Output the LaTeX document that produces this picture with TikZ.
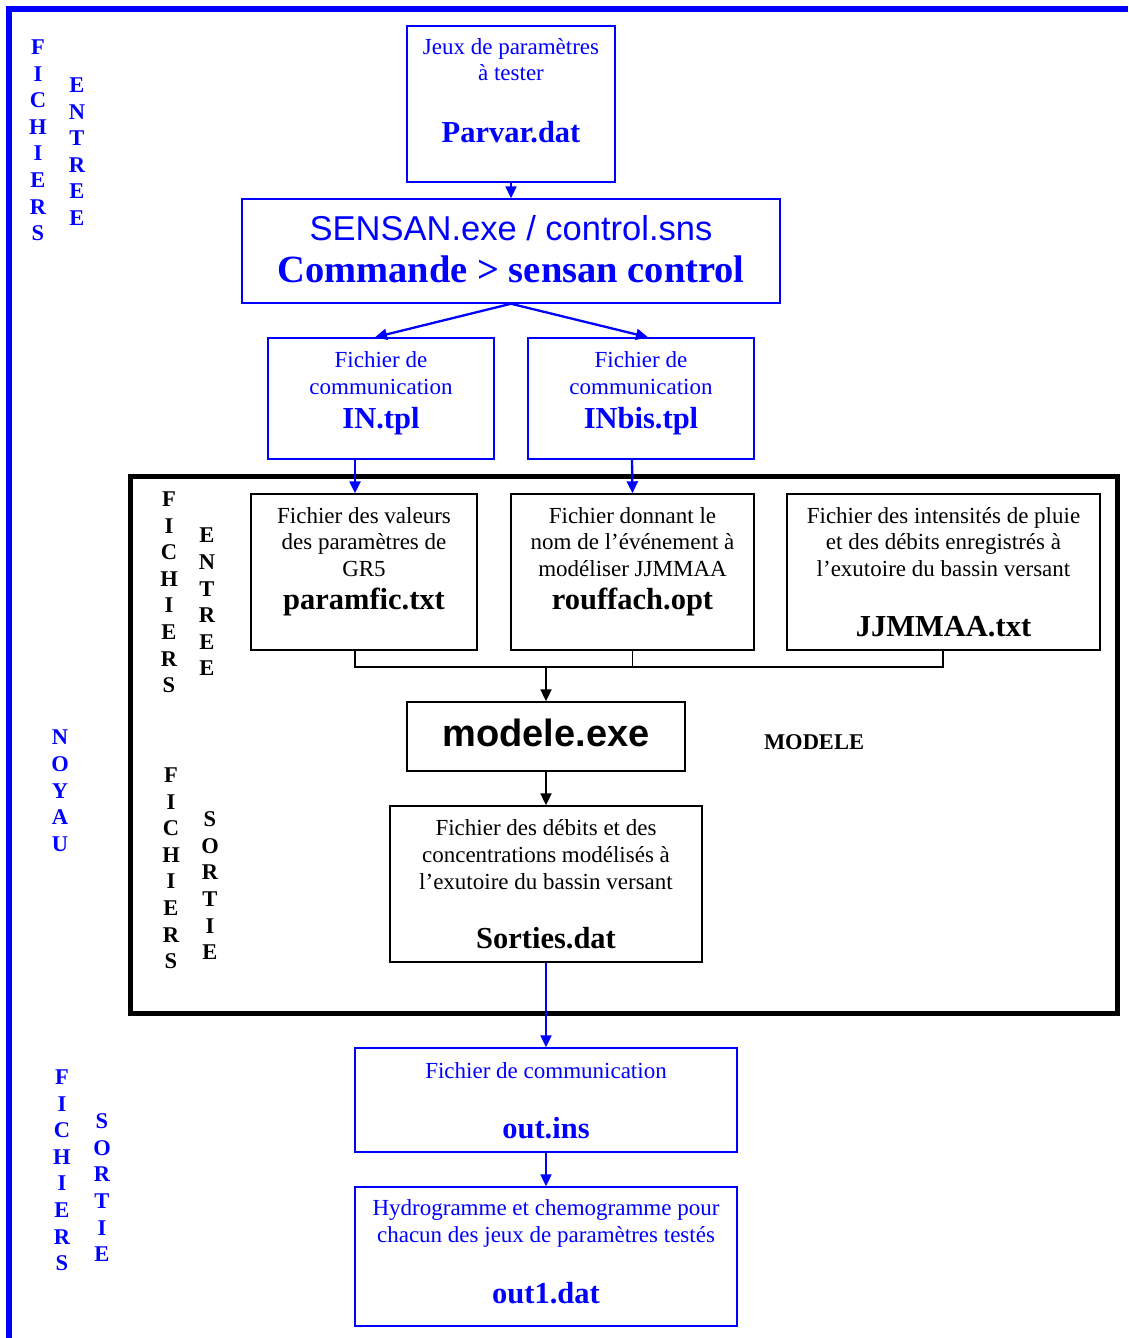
\documentclass[tikz,border=0pt]{standalone}
\usepackage{fontspec}
\setmainfont{Liberation Serif}
\setsansfont{Liberation Sans}
\usetikzlibrary{arrows.meta,calc}
\definecolor{pblue}{RGB}{0,0,255}
\newcommand\fsm{\fontsize{23}{26.5}\selectfont}
\newcommand\fbg{\fontsize{30.5}{34}\selectfont\bfseries}
\newcommand\fvt{\fontsize{22.5}{26.6}\selectfont\bfseries}
\begin{document}
\begin{tikzpicture}[x=1pt,y=-1pt,
  bluebox/.style={draw=pblue, line width=1.5pt, inner sep=0, rectangle},
  blackbox/.style={draw=black, line width=1.4pt, inner sep=0, rectangle},
  txt/.style={inner sep=0, anchor=base, font=\fsm},
  fname/.style={inner sep=0, anchor=base, font=\fbg},
  vlab/.style={align=center, inner sep=0, anchor=north, font=\fvt},
  barrow/.style={draw=pblue, line width=2.3pt, -{Triangle[length=12pt,width=11pt]}},
  karrow/.style={draw=black, line width=2pt, -{Triangle[length=12pt,width=11pt]}},
  kline/.style={draw=black, line width=1.4pt}]
\useasboundingbox (0,0) rectangle (1128,1338);
\fill[white] (0,0) rectangle (1128,1338);
% outer blue border (top and left)
\draw[pblue, line width=5.5pt] (9,1338) -- (9,9) -- (1128,9);
% black frame
\draw[black, line width=5pt] (130.5,476.5) rectangle (1117.5,1013.5);

% boxes
\node[bluebox, minimum width=208pt, minimum height=156pt] (parvar) at (511,104) {};
\node[bluebox, minimum width=538pt, minimum height=104pt] (sensan) at (511,251) {};
\node[bluebox, minimum width=226pt, minimum height=121pt] (intpl) at (381,398.5) {};
\node[bluebox, minimum width=226pt, minimum height=121pt] (inbis) at (641,398.5) {};
\node[blackbox, minimum width=226pt, minimum height=156pt] (pf) at (364,572) {};
\node[blackbox, minimum width=243pt, minimum height=156pt] (rf) at (632.5,572) {};
\node[blackbox, minimum width=313pt, minimum height=156pt] (jj) at (943.5,572) {};
\node[blackbox, minimum width=278pt, minimum height=69pt] (modele) at (546,736.5) {};
\node[blackbox, minimum width=312pt, minimum height=156pt] (sorties) at (546,884) {};
\node[bluebox, minimum width=382pt, minimum height=104pt] (outins) at (546,1100) {};
\node[bluebox, minimum width=382pt, minimum height=139pt] (outone) at (546,1256.5) {};

% texts
\node[txt, text=pblue] (t1a) at (511,55) {Jeux de paramètres};
\node[txt, text=pblue] (t1b) at (511,81) {à tester};
\node[fname, text=pblue] (t1c) at (511,142) {Parvar.dat};

\node[txt, text=pblue, font=\fontsize{34.5}{38}\selectfont\sffamily] (t2a) at (511,240) {SENSAN.exe / control.sns};
\node[txt, text=pblue, font=\fontsize{38.5}{42}\selectfont\bfseries] (t2b) at (511,282) {Commande > sensan control};

\node[txt, text=pblue] (t3a) at (381,367) {Fichier de};
\node[txt, text=pblue] (t3b) at (381,394) {communication};
\node[fname, text=pblue] (t3c) at (381,428) {IN.tpl};

\node[txt, text=pblue] (t4a) at (641,367) {Fichier de};
\node[txt, text=pblue] (t4b) at (641,394) {communication};
\node[fname, text=pblue] (t4c) at (641,428) {INbis.tpl};

\node[txt] (t5a) at (364,523) {Fichier des valeurs};
\node[txt] (t5b) at (364,549) {des paramètres de};
\node[txt] (t5c) at (364,576.5) {GR5};
\node[fname] (t5d) at (364,609) {paramfic.txt};

\node[txt] (t6a) at (632.5,523) {Fichier donnant le};
\node[txt] (t6b) at (632.5,549) {nom de l’événement à};
\node[txt] (t6c) at (632.5,576.5) {modéliser JJMMAA};
\node[fname] (t6d) at (632.5,609) {rouffach.opt};

\node[txt] (t7a) at (943.5,523) {Fichier des intensités de pluie};
\node[txt] (t7b) at (943.5,549) {et des débits enregistrés à};
\node[txt] (t7c) at (943.5,576.5) {l’exutoire du bassin versant};
\node[fname] (t7d) at (943.5,636.5) {JJMMAA.txt};

\node[txt, font=\fontsize{38}{41}\selectfont\sffamily\bfseries] (t8) at (546,746.5) {modele.exe};
\node[txt, font=\fontsize{22.5}{26}\selectfont\bfseries] (t8b) at (814,749) {MODELE};

\node[txt] (t9a) at (546,835) {Fichier des débits et des};
\node[txt] (t9b) at (546,862) {concentrations modélisés à};
\node[txt] (t9c) at (546,889) {l’exutoire du bassin versant};
\node[fname] (t9d) at (546,948) {Sorties.dat};

\node[txt, text=pblue] (t10a) at (546,1078) {Fichier de communication};
\node[fname, text=pblue] (t10b) at (546,1138) {out.ins};

\node[txt, text=pblue] (t11a) at (546,1215.5) {Hydrogramme et chemogramme pour};
\node[txt, text=pblue] (t11b) at (546,1242) {chacun des jeux de paramètres testés};
\node[fname, text=pblue] (t11c) at (546,1303) {out1.dat};

% vertical labels
\node[vlab, text=pblue] (v1) at (38,39.5) {F\\I\\C\\H\\I\\E\\R\\S};
\node[vlab, text=pblue] (v2) at (77,77.5) {E\\N\\T\\R\\E\\E};
\node[vlab] (v3) at (169,491.5) {F\\I\\C\\H\\I\\E\\R\\S};
\node[vlab] (v4) at (207,528) {E\\N\\T\\R\\E\\E};
\node[vlab, text=pblue] (v5) at (60,730) {N\\O\\Y\\A\\U};
\node[vlab] (v6) at (171,767.5) {F\\I\\C\\H\\I\\E\\R\\S};
\node[vlab] (v7) at (210,811.5) {S\\O\\R\\T\\I\\E};
\node[vlab, text=pblue] (v8) at (62,1069.5) {F\\I\\C\\H\\I\\E\\R\\S};
\node[vlab, text=pblue] (v9) at (102,1113.5) {S\\O\\R\\T\\I\\E};

% connectors
\draw[barrow] (parvar.south) -- (sensan.north);
\draw[barrow] (sensan.south) -- ([xshift=-6pt]intpl.north);
\draw[barrow] (sensan.south) -- ([xshift=7pt]inbis.north);
\draw[barrow] ([xshift=-26pt]intpl.south) -- ([xshift=-9pt]pf.north);
\draw[barrow] ([xshift=-9pt]inbis.south) -- (rf.north);
\coordinate (bus) at (546,667);
\draw[kline] ([xshift=-9pt]pf.south) |- (bus) -| ([xshift=-0.5pt]jj.south);
\draw[kline] (rf.south) -- (rf.south |- bus);
\draw[karrow] (bus) -- (modele.north);
\draw[karrow] (modele.south) -- (sorties.north);
\draw[barrow] (sorties.south) -- (outins.north);
\draw[barrow] (outins.south) -- (outone.north);
\end{tikzpicture}
\end{document}
